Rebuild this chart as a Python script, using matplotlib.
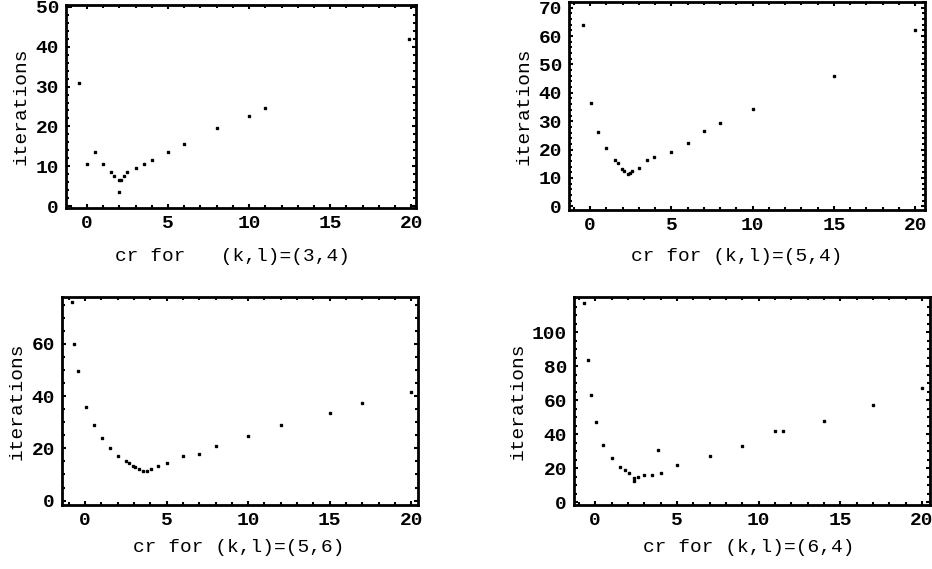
import matplotlib
matplotlib.use("Agg")
import matplotlib.pyplot as plt
from matplotlib.ticker import MultipleLocator

# ---- data ----
x1 = [-0.5, 0, 0.5, 1, 1.5, 1.65, 1.95, 2.1, 2.0, 2.3, 2.45, 3, 3.5, 4, 5, 6, 8, 10, 11, 19.85]
y1 = [31, 10.5, 13.5, 10.5, 8.5, 7.5, 6.5, 6.5, 3.5, 7.5, 8.5, 9.5, 10.5, 11.5, 13.5, 15.5, 19.5, 22.5, 24.5, 42]

x2 = [-0.45, 0.05, 0.5, 1, 1.5, 1.7, 1.95, 2.1, 2.3, 2.45, 2.6, 3, 3.5, 3.95, 5, 6, 7, 8, 10, 15, 20]
y2 = [64, 36.5, 26.2, 20.5, 16.4, 15.3, 13.2, 12.4, 11.4, 11.8, 12.6, 13.4, 16.4, 17.5, 19.3, 22.2, 26.4, 29.3, 34.2, 46, 62]

x3 = [-0.8, -0.65, -0.4, 0.05, 0.55, 1.05, 1.55, 2, 2.5, 2.7, 2.95, 3.1, 3.3, 3.55, 3.8, 4.05, 4.5, 5, 6, 7, 8, 10, 12, 15, 17, 20]
y3 = [76, 60, 49.6, 35.7, 28.9, 24.1, 20, 17.2, 15.2, 14.3, 13.4, 13, 12, 11.5, 11.5, 12.1, 13.2, 14.3, 17.2, 17.8, 20.9, 24.8, 28.9, 33.6, 37.5, 41.7]

x4 = [-0.7, -0.47, -0.27, 0.05, 0.5, 1, 1.5, 1.85, 2.05, 2.4, 2.4, 2.6, 3, 3.5, 3.85, 4, 5, 7, 9, 11, 11.5, 14, 17, 20]
y4 = [117, 83.6, 63, 47, 34, 26.2, 21.1, 19.2, 17.2, 14.2, 12.5, 15.2, 16.2, 16.2, 31, 17.2, 22.1, 27, 33, 42.2, 42.2, 48, 57, 67]

labels = ["cr for   (k,l)=(3,4)", "cr for (k,l)=(5,4)", "cr for (k,l)=(5,6)", "cr for (k,l)=(6,4)"]
yticks = [[0, 10, 20, 30, 40, 50], [0, 10, 20, 30, 40, 50, 60, 70], [0, 20, 40, 60], [0, 20, 40, 60, 80, 100]]
ylims = [(-0.4, 50.4), (-1.3, 72), (-1.7, 78), (-1.5, 120.7)]
xlims = [(-1.3, 20.3), (-1.3, 20.6), (-1.4, 20.4), (-1.3, 20.5)]
yminor = [2, 2, 5, 5]

W, H = 932, 569
# axes boxes in pixels: left, top, right, bottom
boxes = [(66, 5, 416, 208), (569, 2, 925, 210), (62, 297, 418, 505), (574, 297, 930, 505)]
# xlabel centre positions in axes fraction
xlabel_xy = [(0.476, -0.241), (0.47, -0.224), (0.496, -0.205), (0.49, -0.205)]

fig = plt.figure(figsize=(W / 100, H / 100), dpi=100)
fam = ["Liberation Mono", "DejaVu Sans Mono"]
data = [(x1, y1), (x2, y2), (x3, y3), (x4, y4)]
for i, ((xs, ys), box) in enumerate(zip(data, boxes)):
    l, t, r, b = box
    ax = fig.add_axes([l / W, 1 - b / H, (r - l) / W, (b - t) / H])
    ax.plot(xs, ys, linestyle="none", marker="s", markersize=2.0, color="black")
    ax.set_xlim(*xlims[i])
    ax.set_ylim(*ylims[i])
    ax.set_xticks([0, 5, 10, 15, 20])
    ax.set_yticks(yticks[i])
    ax.xaxis.set_minor_locator(MultipleLocator(1))
    ax.yaxis.set_minor_locator(MultipleLocator(yminor[i]))
    ax.tick_params(which="both", direction="in", top=True, right=True, width=1.5, color="black")
    ax.tick_params(which="major", length=3, pad=5)
    ax.tick_params(which="minor", length=2)
    for lab in ax.get_xticklabels() + ax.get_yticklabels():
        lab.set_fontfamily(fam)
        lab.set_fontsize(14)
        lab.set_fontweight("bold")
    for sp in ax.spines.values():
        sp.set_linewidth(2)
        sp.set_color("black")
    ax.set_xlabel(labels[i], fontfamily=fam, fontsize=14, va="center")
    ax.xaxis.set_label_coords(*xlabel_xy[i])
    ax.set_ylabel("iterations", fontfamily=fam, fontsize=14, labelpad=4)

fig.savefig("out.png", dpi=100, facecolor="white")
